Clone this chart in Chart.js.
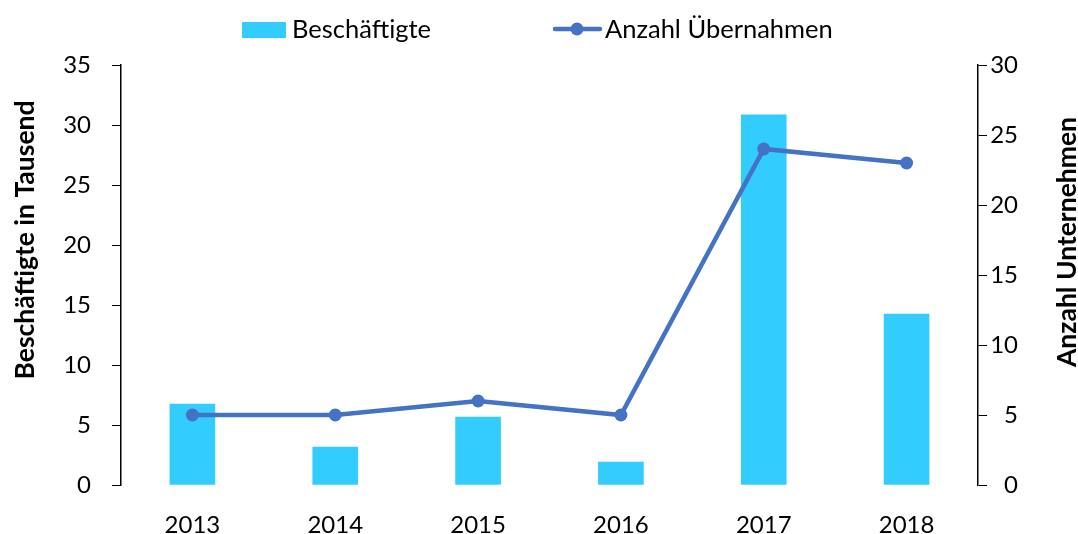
<!DOCTYPE html>
<html>
<head>
<meta charset="utf-8">
<script src="https://cdn.jsdelivr.net/npm/chart.js@4"></script>
<style>
  html, body { margin: 0; padding: 0; background: #fff; }
  #wrap { width: 1078px; height: 534px; position: relative; }
</style>
</head>
<body>
<div id="wrap"><canvas id="c" width="1078" height="534"></canvas></div>
<script>
const categories = ['2013', '2014', '2015', '2016', '2017', '2018'];
const beschaeftigte = [6.75, 3.15, 5.65, 1.9, 30.85, 14.25];
const uebernahmen = [5, 5, 6, 5, 24, 23];
const leftTicks = [0, 5, 10, 15, 20, 25, 30, 35];
const rightTicks = [0, 5, 10, 15, 20, 25, 30];
const leftTitle = 'Beschäftigte in Tausend';
const rightTitle = 'Anzahl Unternehmen';

const FONT = 'Lato, "Liberation Sans", sans-serif';
const BAR_COLOR = '#33CCFF';
const LINE_COLOR = '#4472C4';

const customDecor = {
  id: 'customDecor',
  afterDraw(chart) {
    const ctx = chart.ctx;
    const ds = chart.data.datasets;
    ctx.save();
    ctx.fillStyle = '#000';
    ctx.font = '25.5px ' + FONT;
    ctx.textBaseline = 'middle';
    ctx.textAlign = 'left';
    // legend entry 1: bar
    ctx.fillStyle = ds[0].backgroundColor;
    ctx.fillRect(242, 22, 44, 16);
    ctx.fillStyle = '#000';
    ctx.fillText(ds[0].label, 292, 30);
    // legend entry 2: line with marker
    ctx.strokeStyle = ds[1].borderColor;
    ctx.lineWidth = 4.5;
    ctx.lineCap = 'round';
    ctx.beginPath();
    ctx.moveTo(555, 29);
    ctx.lineTo(600, 29);
    ctx.stroke();
    ctx.fillStyle = ds[1].borderColor;
    ctx.beginPath();
    ctx.arc(577, 29, 6.5, 0, Math.PI * 2);
    ctx.fill();
    ctx.fillStyle = '#000';
    ctx.fillText(ds[1].label, 605, 30);
    // axis titles
    ctx.font = 'bold 26.5px ' + FONT;
    ctx.textAlign = 'center';
    ctx.save();
    ctx.translate(25, 240);
    ctx.rotate(-Math.PI / 2);
    ctx.fillText(leftTitle, 0, 0);
    ctx.restore();
    ctx.save();
    ctx.translate(1067, 242);
    ctx.rotate(-Math.PI / 2);
    ctx.fillText(rightTitle, 0, 0);
    ctx.restore();
    ctx.restore();
  }
};

new Chart(document.getElementById('c'), {
  data: {
    labels: categories,
    datasets: [
      {
        type: 'bar',
        label: 'Beschäftigte',
        data: beschaeftigte,
        backgroundColor: BAR_COLOR,
        borderWidth: 0,
        barThickness: 45,
        yAxisID: 'y',
        order: 1
      },
      {
        type: 'line',
        label: 'Anzahl Übernahmen',
        data: uebernahmen,
        borderColor: LINE_COLOR,
        backgroundColor: LINE_COLOR,
        borderWidth: 4.5,
        pointRadius: 6.5,
        pointBorderWidth: 0,
        pointBackgroundColor: LINE_COLOR,
        tension: 0,
        yAxisID: 'y1',
        order: 0
      }
    ]
  },
  options: {
    responsive: false,
    animation: false,
    devicePixelRatio: 1,
    layout: { padding: { top: 65, left: 0, right: 60, bottom: 0 } },
    plugins: {
      legend: { display: false },
      tooltip: { enabled: false }
    },
    scales: {
      x: {
        grid: { display: false },
        border: { display: false },
        ticks: { color: '#000', font: { family: FONT, size: 24 }, padding: 18 },
        afterFit(s) { s.height = 49; }
      },
      y: {
        position: 'left',
        min: 0, max: 35,
        afterBuildTicks(s) { s.ticks = leftTicks.map(v => ({ value: v })); },
        grid: { drawOnChartArea: false, drawTicks: true, tickLength: 9, color: '#000', lineWidth: 1 },
        border: { display: true, color: '#000', width: 1.5 },
        ticks: { color: '#000', font: { family: FONT, size: 24 }, padding: 21 },
        afterFit(s) { s.width = 121; }
      },
      y1: {
        position: 'right',
        min: 0, max: 30,
        afterBuildTicks(s) { s.ticks = rightTicks.map(v => ({ value: v })); },
        grid: { drawOnChartArea: false, drawTicks: true, tickLength: 9, color: '#000', lineWidth: 1 },
        border: { display: true, color: '#000', width: 1.5 },
        ticks: { color: '#000', font: { family: FONT, size: 24 }, padding: 4, crossAlign: 'far' },
        afterFit(s) { s.width = 40; }
      }
    }
  },
  plugins: [customDecor]
});
</script>
</body>
</html>
